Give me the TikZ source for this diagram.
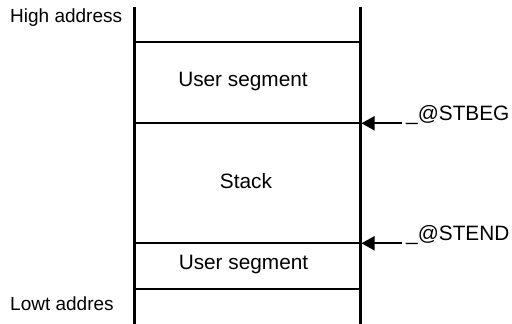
\documentclass[tikz,border=0pt]{standalone}
\usepackage{fontspec}
\setmainfont{Liberation Sans}
\usetikzlibrary{arrows.meta}
\begin{document}
\begin{tikzpicture}
[x=1pt,y=-1pt,
  walldecorate/.style={line width=3pt},
  lvldecorate/.style={line width=2pt},
  arrowdecorate/.style={-{Triangle[length=13pt,width=14pt]},line width=2pt},
  seglabel/.style={inner sep=0pt,anchor=base,font=\fontsize{20.8}{24}\selectfont},
  addrlabel/.style={inner sep=0pt,anchor=base west,font=\fontsize{19}{22}\selectfont},
  symlabel/.style={inner sep=0pt,anchor=base west,font=\fontsize{20.8}{24}\selectfont}]
\useasboundingbox (0,0) rectangle (512,324);
% walls of the memory column
\coordinate (lt) at (134,7);
\coordinate (lb) at (134,324);
\coordinate (rt) at (360,7);
\coordinate (rb) at (360,324);
\draw[walldecorate] (lt) -- (lb);
\draw[walldecorate] (rt) -- (rb);
% levels
\coordinate (l1) at (134,42);   \coordinate (r1) at (360,42);
\coordinate (l2) at (134,123.3);\coordinate (r2) at (360,123.3);
\coordinate (l3) at (134,243.3);\coordinate (r3) at (360,243.3);
\coordinate (l4) at (134,289.3);\coordinate (r4) at (360,289.3);
\draw[lvldecorate] (l1) -- (r1);
\draw[lvldecorate] (l2) -- (r2);
\draw[lvldecorate] (l3) -- (r3);
\draw[lvldecorate] (l4) -- (r4);
% texts
\node (high) at (10,22.7) [addrlabel] {High address};
\node (low) at (10,310) [addrlabel] {Lowt addres};
\node (user1) at (243,86.7) [seglabel] {User segment};
\node (stack) at (246,188.3) [seglabel] {Stack};
\node (user2) at (243.5,269.3) [seglabel] {User segment};
\node (beg) at (406,120) [symlabel] {\_@STBEG};
\node (end) at (406,240) [symlabel] {\_@STEND};
% arrows
\coordinate (begtail) at (402,123.3);
\coordinate (endtail) at (402,243.3);
\coordinate (begtip) at (361.5,123.3);
\coordinate (endtip) at (361.5,243.3);
\draw[arrowdecorate] (begtail) -- (begtip);
\draw[arrowdecorate] (endtail) -- (endtip);
\end{tikzpicture}
\end{document}
